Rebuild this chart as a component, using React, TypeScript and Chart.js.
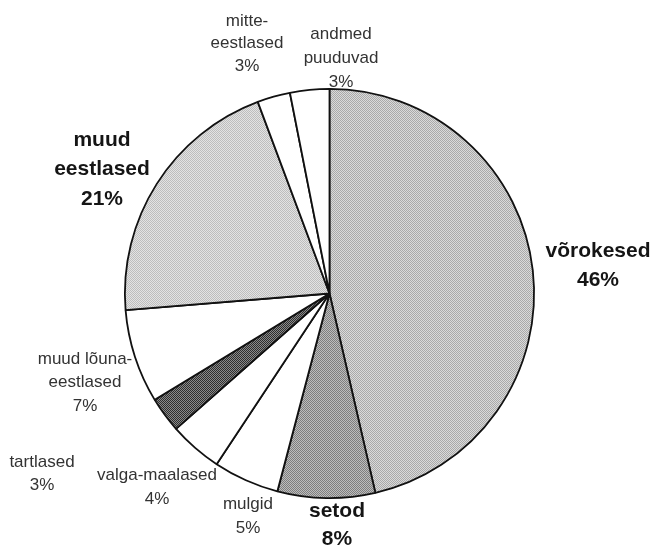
import React, { useEffect, useRef } from "react";
import { Chart, registerables } from "chart.js";

Chart.register(...registerables);

// ---- data ----
const categories = [
  "võrokesed",
  "setod",
  "mulgid",
  "valga-maalased",
  "tartlased",
  "muud lõuna-eestlased",
  "muud eestlased",
  "mitte-eestlased",
  "andmed puuduvad",
];
const shares = [46.4, 7.7, 5.2, 4.2, 2.8, 7.4, 20.6, 2.6, 3.1];
const percentLabels = ["46%", "8%", "5%", "4%", "3%", "7%", "21%", "3%", "3%"];
const labelLines = [
  ["võrokesed"],
  ["setod"],
  ["mulgid"],
  ["valga-maalased"],
  ["tartlased"],
  ["muud lõuna-", "eestlased"],
  ["muud", "eestlased"],
  ["mitte-", "eestlased"],
  ["andmed", "puuduvad"],
];

// ---- styles / layout ----
const fills: (string | [string, string])[] = [
  ["#a9a9a9", "#dadada"],
  ["#7e7e7e", "#bdbdbd"],
  "#ffffff",
  "#ffffff",
  ["#2e2e2e", "#8a8a8a"],
  "#ffffff",
  ["#bdbdbd", "#e3e3e3"],
  "#ffffff",
  "#ffffff",
];
const labelLayout = [
  { x: 598, y: 251, lh: 29, bold: true },
  { x: 337, y: 511, lh: 28, bold: true },
  { x: 248, y: 504, lh: 24, bold: false },
  { x: 157, y: 475, lh: 24, bold: false },
  { x: 42, y: 462, lh: 23, bold: false },
  { x: 85, y: 359, lh: 23.5, bold: false },
  { x: 102, y: 140, lh: 29.5, bold: true },
  { x: 247, y: 21, lh: 22.5, bold: false },
  { x: 341, y: 34, lh: 24, bold: false },
];

function makePattern(a: string, b: string): CanvasPattern | string {
  const c = document.createElement("canvas");
  c.width = 2;
  c.height = 2;
  const g = c.getContext("2d");
  if (!g) return a;
  g.fillStyle = b;
  g.fillRect(0, 0, 2, 2);
  g.fillStyle = a;
  g.fillRect(0, 0, 1, 1);
  g.fillRect(1, 1, 1, 1);
  const p = g.createPattern(c, "repeat");
  return p || a;
}

const labelPlugin = {
  id: "sliceLabels",
  afterDraw(chart: any) {
    const ctx = chart.ctx as CanvasRenderingContext2D;
    ctx.save();
    ctx.textAlign = "center";
    ctx.textBaseline = "middle";
    labelLines.forEach((lines, i) => {
      const L = labelLayout[i];
      const all = [...lines, percentLabels[i]];
      ctx.font = L.bold
        ? "bold 21px 'Liberation Sans', Arial, sans-serif"
        : "17px 'Liberation Sans', Arial, sans-serif";
      ctx.fillStyle = L.bold ? "#151515" : "#333333";
      all.forEach((t, k) => {
        ctx.fillText(t, L.x, L.y + k * L.lh);
      });
    });
    ctx.restore();
  },
};

export default function App() {
  const ref = useRef<HTMLCanvasElement | null>(null);
  useEffect(() => {
    if (!ref.current) return;
    const bg = fills.map((f) => (Array.isArray(f) ? makePattern(f[0], f[1]) : f));
    const chart = new Chart(ref.current, {
      type: "pie",
      data: {
        labels: categories,
        datasets: [
          {
            data: shares,
            backgroundColor: bg as any,
            borderColor: "#111111",
            borderWidth: 1.8,
          },
        ],
      },
      options: {
        responsive: false,
        animation: false,
        devicePixelRatio: 1,
        layout: { padding: { left: 124, right: 122, top: 88, bottom: 48 } },
        plugins: {
          legend: { display: false },
          tooltip: { enabled: false },
        },
      },
      plugins: [labelPlugin],
    });
    return () => chart.destroy();
  }, []);
  return (
    <div
      style={{
        position: "absolute",
        left: 0,
        top: 0,
        width: 657,
        height: 547,
        background: "#ffffff",
      }}
    >
      <canvas ref={ref} width={657} height={547} />
    </div>
  );
}
